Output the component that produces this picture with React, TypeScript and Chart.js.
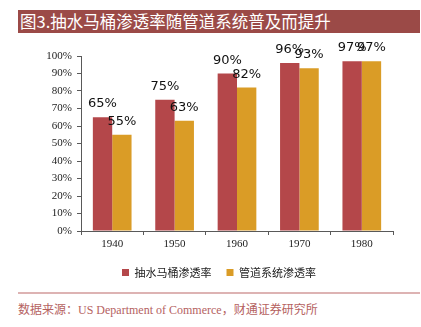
import React, { useEffect, useRef } from "react";
import { Chart, registerables } from "chart.js";

Chart.register(...registerables);

const categories = ["1940", "1950", "1960", "1970", "1980"];
const toiletRate = [65, 75, 90, 96, 97];
const pipeRate = [55, 63, 82, 93, 97];
const seriesNames = ["抽水马桶渗透率", "管道系统渗透率"];
const titleText = "图3.抽水马桶渗透率随管道系统普及而提升";
const sourceText = "数据来源：US Department of Commerce，财通证券研究所";

const RED = "#B4474A";
const ORANGE = "#DA9C26";

const valueLabels = {
  id: "valueLabels",
  afterDatasetsDraw(chart: any) {
    const ctx = chart.ctx;
    ctx.save();
    ctx.font = '13px "DejaVu Sans"';
    ctx.fillStyle = "#111";
    ctx.textAlign = "center";
    ctx.textBaseline = "alphabetic";
    chart.data.datasets.forEach((ds: any, i: number) => {
      chart.getDatasetMeta(i).data.forEach((bar: any, j: number) => {
        ctx.fillText(ds.data[j] + "%", bar.x, bar.y - 10);
      });
    });
    ctx.restore();
  },
};

export default function App() {
  const ref = useRef<HTMLCanvasElement>(null);
  useEffect(() => {
    const chart = new Chart(ref.current!, {
      type: "bar",
      data: {
        labels: categories,
        datasets: [
          { label: seriesNames[0], data: toiletRate, backgroundColor: RED },
          { label: seriesNames[1], data: pipeRate, backgroundColor: ORANGE },
        ],
      },
      options: {
        responsive: false,
        animation: false,
        devicePixelRatio: 1,
        layout: { padding: { top: 22, right: 0, left: 17, bottom: 0 } },
        datasets: { bar: { categoryPercentage: 0.62, barPercentage: 1 } },
        scales: {
          x: {
            grid: {
              offset: true,
              drawOnChartArea: false,
              drawTicks: true,
              tickLength: 4,
              tickColor: "#595959",
            },
            border: { color: "#595959", width: 1 },
            ticks: {
              color: "#222",
              font: { family: '"Liberation Serif"', size: 11 },
              padding: 3,
            },
            afterFit(scale: any) {
              scale.height = 21;
            },
          },
          y: {
            min: 0,
            max: 100,
            grid: {
              drawOnChartArea: false,
              drawTicks: true,
              tickLength: 4,
              tickColor: "#595959",
            },
            border: { color: "#595959", width: 1 },
            ticks: {
              stepSize: 10,
              color: "#222",
              font: { family: '"Liberation Serif"', size: 11 },
              padding: 5,
              callback: (v: any) => v + "%",
            },
            afterFit(scale: any) {
              scale.width = 64;
            },
          },
          yRight: {
            position: "right",
            min: 0,
            max: 100,
            grid: { display: false },
            border: { display: false },
            ticks: { display: false },
            afterFit(scale: any) {
              scale.width = 28;
            },
          },
        },
        plugins: {
          legend: {
            position: "bottom",
            labels: {
              boxWidth: 7,
              boxHeight: 7,
              padding: 15,
              color: "#222",
              font: { family: '"Noto Sans CJK SC"', size: 11 },
            },
          },
          tooltip: { enabled: false },
        },
      },
      plugins: [valueLabels],
    });
    return () => chart.destroy();
  }, []);

  return (
    <div style={{ position: "absolute", left: 0, top: 0, width: 421, height: 327, background: "#fff" }}>
      <div
        style={{
          position: "absolute",
          left: 18,
          top: 10,
          width: 400,
          height: 23,
          paddingLeft: 2,
          background: "#9B4A47",
          color: "#fff",
          font: '16.5px "Noto Sans CJK SC"',
          lineHeight: "23px",
          whiteSpace: "nowrap",
        }}
      >
        {titleText}
      </div>
      <canvas
        ref={ref}
        width={421}
        height={254}
        style={{ position: "absolute", left: 0, top: 34, width: 421, height: 254 }}
      />
      <div style={{ position: "absolute", left: 18, top: 292, width: 402, height: 2, background: "#DDB3B3" }} />
      <div
        style={{
          position: "absolute",
          left: 18,
          top: 302,
          color: "#B5625F",
          font: '12px "Liberation Serif", "Noto Sans CJK SC"',
          lineHeight: "16px",
          whiteSpace: "nowrap",
        }}
      >
        {sourceText}
      </div>
    </div>
  );
}
